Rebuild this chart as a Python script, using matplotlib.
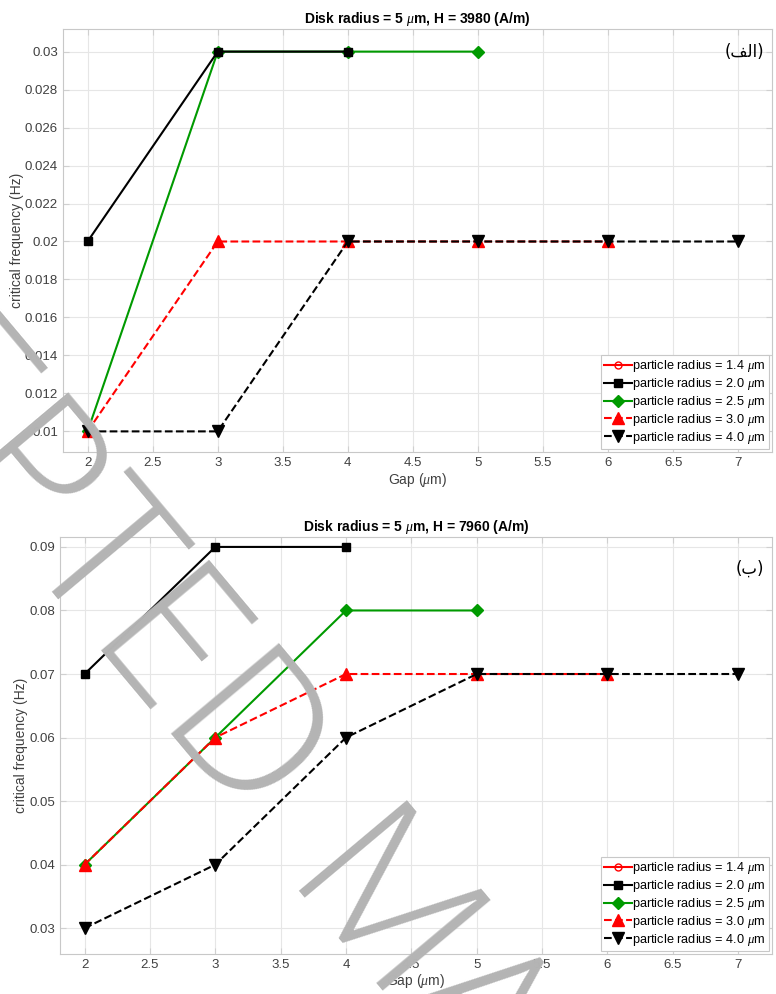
import numpy as np
import matplotlib
matplotlib.use("Agg")
from matplotlib import pyplot as plt

plt.rcParams['font.family'] = ['Liberation Sans', 'DejaVu Sans']
plt.rcParams['mathtext.fontset'] = 'custom'
plt.rcParams['mathtext.it'] = 'Liberation Serif:italic'

# gap values (um) and critical frequency (Hz), H = 3980 A/m
gap_a_14, freq_a_14 = [], []
gap_a_20, freq_a_20 = [2, 3, 4], [0.02, 0.03, 0.03]
gap_a_25, freq_a_25 = [2, 3, 4, 5], [0.01, 0.03, 0.03, 0.03]
gap_a_30, freq_a_30 = [2, 3, 4, 5, 6], [0.01, 0.02, 0.02, 0.02, 0.02]
gap_a_40, freq_a_40 = [2, 3, 4, 5, 6, 7], [0.01, 0.01, 0.02, 0.02, 0.02, 0.02]

# H = 7960 A/m
gap_b_14, freq_b_14 = [], []
gap_b_20, freq_b_20 = [2, 3, 4], [0.07, 0.09, 0.09]
gap_b_25, freq_b_25 = [2, 3, 4, 5], [0.04, 0.06, 0.08, 0.08]
gap_b_30, freq_b_30 = [2, 3, 4, 5, 6], [0.04, 0.06, 0.07, 0.07, 0.07]
gap_b_40, freq_b_40 = [2, 3, 4, 5, 6, 7], [0.03, 0.04, 0.06, 0.07, 0.07, 0.07]

radius_labels = ['1.4', '2.0', '2.5', '3.0', '4.0']
titles = [r'Disk radius = 5 $\mu$m, H = 3980 (A/m)',
          r'Disk radius = 5 $\mu$m, H = 7960 (A/m)']
yticks_a = [0.01, 0.012, 0.014, 0.016, 0.018, 0.02, 0.022, 0.024, 0.026, 0.028, 0.03]
yticks_b = [0.03, 0.04, 0.05, 0.06, 0.07, 0.08, 0.09]
xticks = [2, 2.5, 3, 3.5, 4, 4.5, 5, 5.5, 6, 6.5, 7]

red = '#ff0000'
green = '#009a00'
styles = [
    dict(color=red, ls='-', marker='o', ms=5, mfc='none', zorder=2),
    dict(color='black', ls='-', marker='s', ms=6, zorder=4),
    dict(color=green, ls='-', marker='D', ms=6, zorder=3),
    dict(color=red, ls='--', marker='^', ms=8, zorder=5),
    dict(color='black', ls='--', marker='v', ms=8, zorder=6),
]

fig = plt.figure(figsize=(7.76, 9.94), dpi=100)
ax1 = fig.add_axes([0.081, 0.545, 0.914, 0.426])
ax2 = fig.add_axes([0.077, 0.040, 0.918, 0.420])

panels = [
    (ax1, [(gap_a_14, freq_a_14), (gap_a_20, freq_a_20), (gap_a_25, freq_a_25),
           (gap_a_30, freq_a_30), (gap_a_40, freq_a_40)],
     (0.0089, 0.0312), yticks_a, '(\ufed2\ufedf\ufe8d)', 0.0300, -0.055),
    (ax2, [(gap_b_14, freq_b_14), (gap_b_20, freq_b_20), (gap_b_25, freq_b_25),
           (gap_b_30, freq_b_30), (gap_b_40, freq_b_40)],
     (0.0259, 0.0916), yticks_b, '(\ufe8f)', 0.0866, -0.045),
]

for i, (ax, series, ylim, yticks, tag, tag_y, ylab_x) in enumerate(panels):
    for (g, f), st, r in zip(series, styles, radius_labels):
        ax.plot(g, f, lw=1.5, label=r'particle radius = %s $\mu$m' % r, **st)
    ax.set_xlim(1.81, 7.26)
    ax.set_ylim(*ylim)
    ax.set_xticks(xticks)
    ax.set_xticklabels(['%g' % t for t in xticks])
    ax.set_yticks(yticks)
    ax.set_yticklabels(['%g' % t for t in yticks])
    ax.grid(True, color='#e6e6e6', lw=0.8)
    ax.set_axisbelow(True)
    ax.tick_params(direction='in', top=True, right=True, length=4,
                   labelsize=9.5, colors='#d0d0d0', labelcolor='#404040')
    for sp in ax.spines.values():
        sp.set_color('#c8c8c8')
    ax.set_xlabel(r'Gap ($\mu$m)', fontsize=10, color='#404040', labelpad=1)
    ax.set_ylabel('critical frequency (Hz)', fontsize=10, color='#404040')
    ax.yaxis.set_label_coords(ylab_x, 0.5)
    ax.set_title(titles[i], fontsize=10, fontweight='bold', pad=4)
    ax.text(7.2, tag_y, tag, fontsize=12, ha='right', va='center',
            family=['DejaVu Sans'])
    leg = ax.legend(loc='lower right', fontsize=9.2, handlelength=2.2,
                    handletextpad=0.0, borderpad=0.25, labelspacing=0.15,
                    borderaxespad=0.25, fancybox=False, framealpha=1)
    leg.get_frame().set_edgecolor('#c8c8c8')
    leg.get_frame().set_linewidth(0.8)

# watermark
wm = dict(rotation=-50, fontsize=142, color='#b4b4b4', va='baseline',
          rotation_mode='anchor', zorder=20, family=['Open Sans'], fontweight='light')
fig.text(0.318, 0.170, 'ACCEPTED', ha='right', **wm)
fig.text(0.358, 0.105, 'MANUSCRIPT', ha='left', **wm)

fig.savefig('out.png', dpi=100)
